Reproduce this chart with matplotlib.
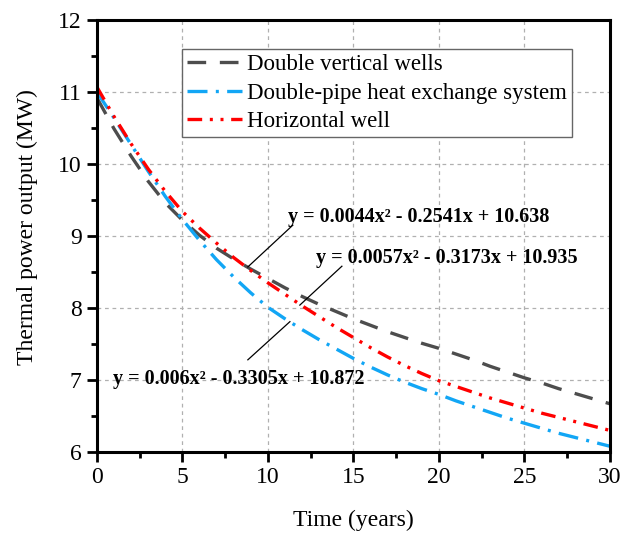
import matplotlib
matplotlib.use("Agg")
import matplotlib.pyplot as plt
from matplotlib.ticker import MultipleLocator

plt.rcParams['font.family'] = ['Liberation Serif', 'DejaVu Serif']

years = list(range(0, 31))
vertical_wells = [10.92, 10.49, 10.11, 9.76, 9.46, 9.22, 9.01, 8.83, 8.68, 8.54,
                  8.41, 8.28, 8.16, 8.05, 7.95, 7.85, 7.76, 7.67, 7.59, 7.51,
                  7.44, 7.36, 7.28, 7.19, 7.11, 7.03, 6.96, 6.88, 6.81, 6.74, 6.67]
double_pipe = [11.00, 10.64, 10.27, 9.90, 9.55, 9.23, 8.94, 8.67, 8.43, 8.21,
               8.01, 7.85, 7.70, 7.56, 7.43, 7.30, 7.18, 7.07, 6.97, 6.88,
               6.80, 6.71, 6.63, 6.55, 6.47, 6.40, 6.33, 6.26, 6.20, 6.14, 6.08]
horizontal_well = [11.07, 10.66, 10.28, 9.93, 9.62, 9.34, 9.11, 8.90, 8.70, 8.52,
                   8.35, 8.19, 8.03, 7.88, 7.73, 7.59, 7.45, 7.32, 7.20, 7.09,
                   6.99, 6.91, 6.83, 6.75, 6.68, 6.61, 6.54, 6.48, 6.42, 6.36, 6.30]
labels = ["Double vertical wells", "Double-pipe heat exchange system", "Horizontal well"]

# fitted equations and where they point on the curves
equations = ["y = 0.0044x\u00b2 - 0.2541x + 10.638",
             "y = 0.0057x\u00b2 - 0.3173x + 10.935",
             "y = 0.006x\u00b2 - 0.3305x + 10.872"]
eq_text_xy = [(11.17, 9.19), (12.8, 8.63), (0.95, 6.94)]
eq_line_start = [(8.83, 8.57), (11.87, 8.04), (11.29, 7.81)]
eq_line_end = [(11.46, 9.15), (14.33, 8.58), (8.83, 7.28)]

fig = plt.figure(figsize=(6.21, 5.34), dpi=100)
ax = fig.add_axes([0.156, 0.1536, 0.826, 0.809])

lw = 2.4
ax.plot(years, vertical_wells, color='#4d4d4d', lw=lw, linestyle=(0, (5.6, 4.1)), label=labels[0])
ax.plot(years, double_pipe, color='#12a6f5', lw=lw, linestyle=(0, (6, 2.5, 0.9, 2.5)), label=labels[1])
ax.plot(years, horizontal_well, color='#ff0000', lw=lw,
        linestyle=(0, (4.4, 2.3, 0.9, 2.3, 0.9, 2.3)), label=labels[2])

for eq, (tx, ty), (x1, y1), (x2, y2) in zip(equations, eq_text_xy, eq_line_start, eq_line_end):
    ax.plot([x1, x2], [y1, y2], color='black', lw=0.9)
    ax.text(tx, ty, eq, fontsize=14.5, fontweight='bold', va='baseline', ha='left')

ax.set_xlim(0, 30)
ax.set_ylim(6, 12)
ax.xaxis.set_major_locator(MultipleLocator(5))
ax.xaxis.set_minor_locator(MultipleLocator(2.5))
ax.yaxis.set_major_locator(MultipleLocator(1))
ax.yaxis.set_minor_locator(MultipleLocator(0.5))
ax.grid(True, which='major', color='#b0b0b0', linestyle=(0, (3, 3)), lw=0.9)
ax.set_axisbelow(True)

for s in ax.spines.values():
    s.set_linewidth(2.2)
ax.tick_params(which='major', direction='out', length=7, width=2, labelsize=17, pad=4)
ax.tick_params(which='minor', direction='out', length=4, width=2)

ax.set_xlabel("Time (years)", fontsize=17)
ax.set_ylabel("Thermal power output (MW)", fontsize=17)
ax.xaxis.set_label_coords(0.5, -0.135)
ax.yaxis.set_label_coords(-0.115, 0.52)

leg = ax.legend(loc='upper left', bbox_to_anchor=(0.166, 0.933), fontsize=16.5,
                frameon=True, fancybox=False, framealpha=1, edgecolor='#666666',
                handlelength=2.4, handletextpad=0.2, labelspacing=0.33, borderpad=0.22,
                borderaxespad=0)
leg.get_frame().set_linewidth(1.0)

fig.savefig("out.png", dpi=100)
